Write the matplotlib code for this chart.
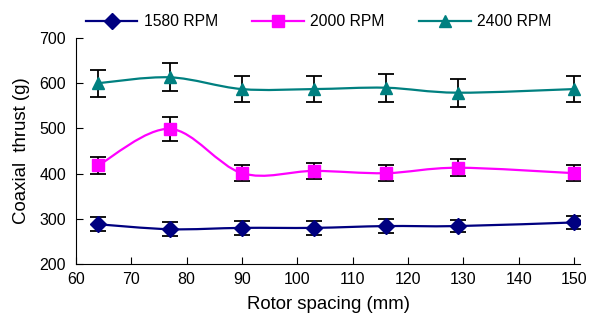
import matplotlib
matplotlib.use("Agg")

import matplotlib.pyplot as plt
import numpy as np
from matplotlib.lines import Line2D
from matplotlib.patches import PathPatch
from matplotlib.path import Path

plt.rcParams["font.family"] = ["Liberation Sans", "DejaVu Sans"]

rotor_spacing = [64, 77, 90, 103, 116, 129, 150]

thrust_1580 = [288, 277, 280, 280, 284, 284, 292]
err_1580 = [15, 15, 15, 15, 15, 14, 14]

thrust_2000 = [418, 499, 401, 406, 401, 413, 401]
err_2000 = [19, 26, 18, 18, 18, 19, 18]

thrust_2400 = [600, 613, 587, 587, 590, 579, 587]
err_2400 = [30, 31, 29, 29, 31, 31, 29]

series_labels = ["1580 RPM", "2000 RPM", "2400 RPM"]


def smooth_path(x, y):
    # Excel-like smoothed line: cubic bezier segments through the points
    pts = np.column_stack([x, y]).astype(float)
    n = len(pts)
    verts = [pts[0]]
    codes = [Path.MOVETO]
    for i in range(n - 1):
        p0 = pts[i - 1] if i > 0 else pts[i]
        p1 = pts[i]
        p2 = pts[i + 1]
        p3 = pts[i + 2] if i + 2 < n else pts[i + 1]
        c1 = p1 + (p2 - p0) / 6.0
        c2 = p2 - (p3 - p1) / 6.0
        verts += [c1, c2, p2]
        codes += [Path.CURVE4] * 3
    return Path(verts, codes)


fig = plt.figure(figsize=(5.98, 3.22), dpi=100)
ax = fig.add_axes([0.127, 0.180, 0.843, 0.702])

series = [
    (thrust_1580, err_1580, "#000080", "D", 8),
    (thrust_2000, err_2000, "#FF00FF", "s", 8),
    (thrust_2400, err_2400, "#008080", "^", 9),
]

handles = []
for (values, errors, color, marker, msize), label in zip(series, series_labels):
    ax.add_patch(PathPatch(smooth_path(rotor_spacing, values), facecolor="none",
                           edgecolor=color, linewidth=1.6, zorder=2))
    ax.errorbar(rotor_spacing, values, yerr=errors, fmt="none", ecolor="black",
                elinewidth=1.3, capsize=5.5, capthick=1.3, zorder=3)
    ax.plot(rotor_spacing, values, linestyle="none", marker=marker, color=color,
            markersize=msize, zorder=4)
    handles.append(Line2D([], [], color=color, linewidth=1.6, marker=marker,
                          markersize=msize, label=label))

ax.set_xlim(60, 151.1)
ax.set_ylim(200, 700)
ax.set_xticks(range(60, 151, 10))
ax.set_yticks(range(200, 701, 100))
ax.spines["top"].set_visible(False)
ax.spines["right"].set_visible(False)
ax.tick_params(direction="in", length=5, labelsize=11.5)
ax.tick_params(axis="y", pad=7)
ax.tick_params(axis="x", pad=6)
ax.set_xlabel("Rotor spacing (mm)", fontsize=13.4, labelpad=6)
ax.set_ylabel("Coaxial  thrust (g)", fontsize=13.4, labelpad=7)

fig.legend(handles=handles, loc="upper center", bbox_to_anchor=(0.533, 1.0),
           ncol=3, frameon=False, fontsize=11.3, handlelength=3.3,
           columnspacing=2.2, handletextpad=0.4)

fig.savefig("out.png", dpi=100)
